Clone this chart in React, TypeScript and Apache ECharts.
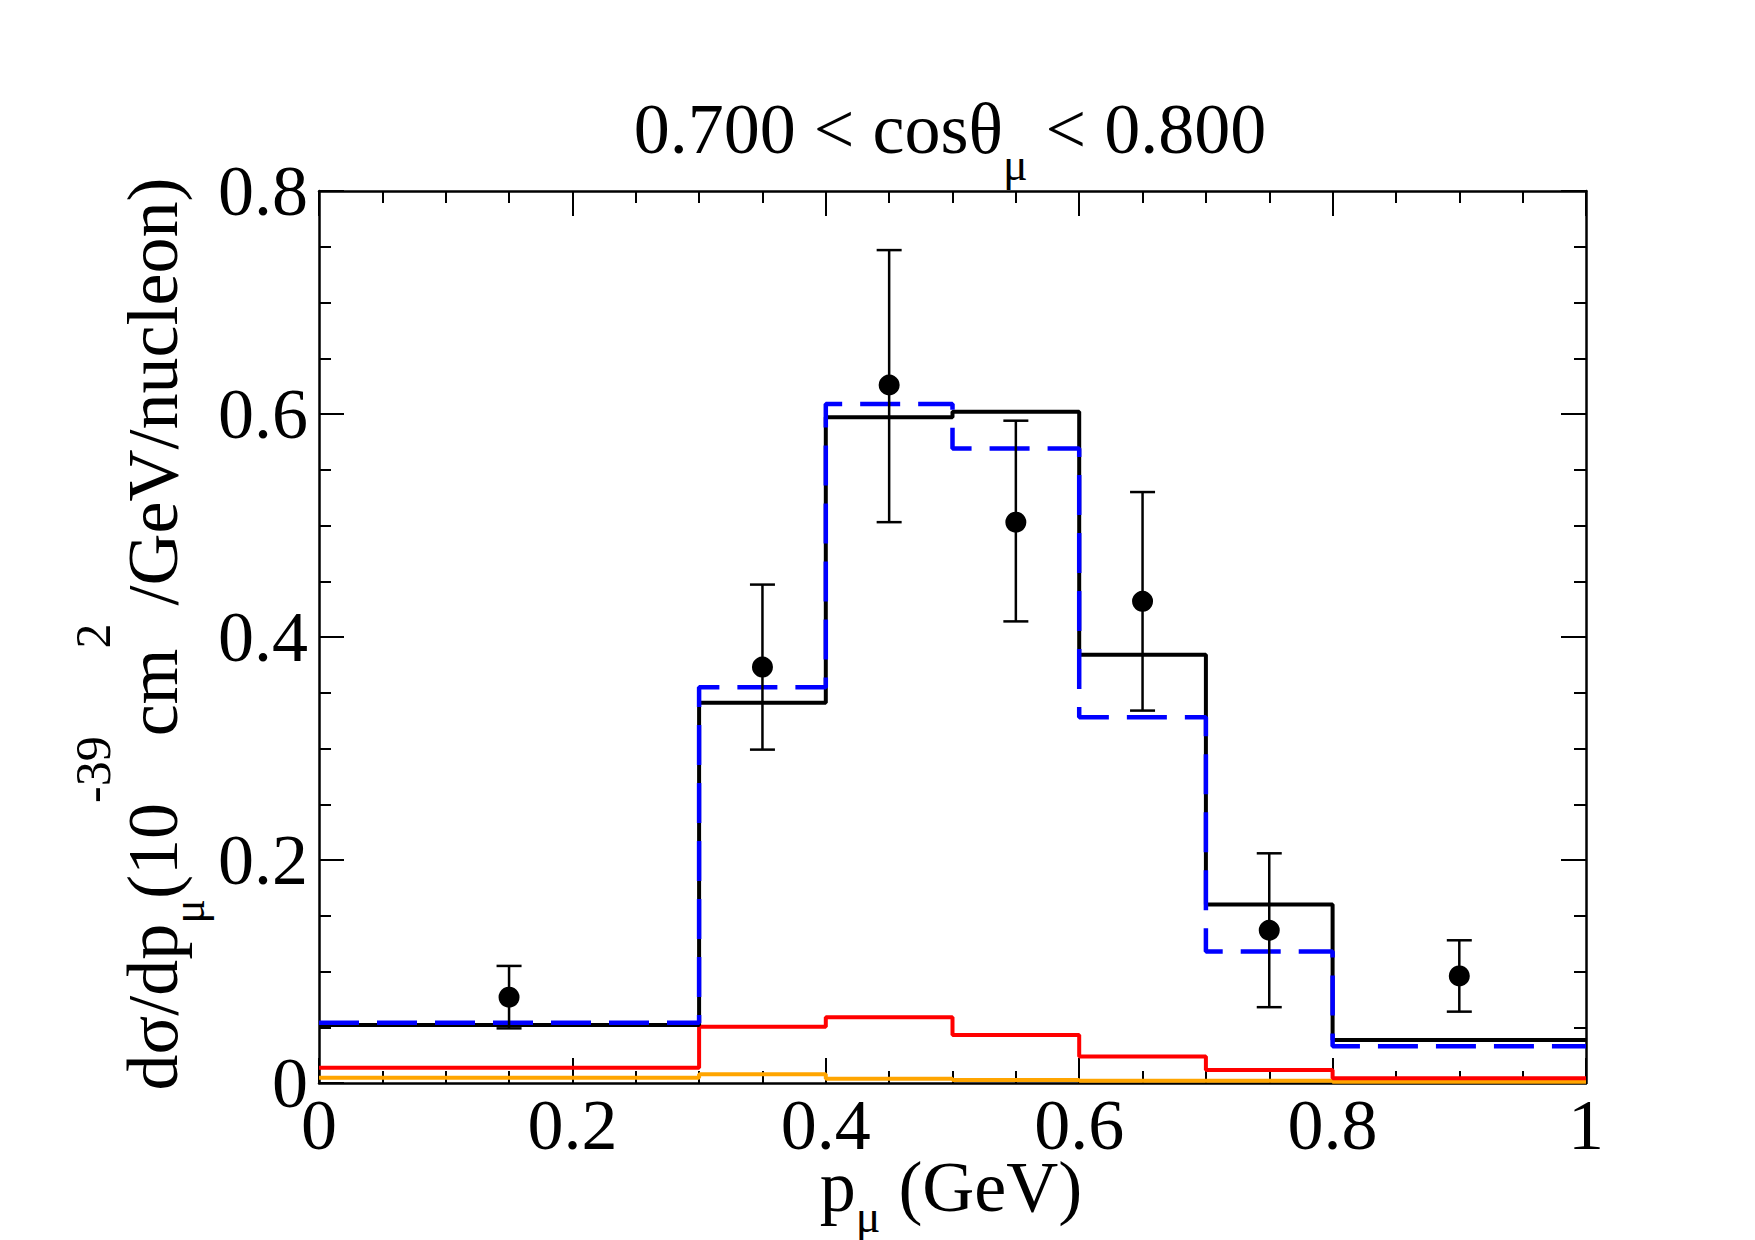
import React, { useEffect, useRef } from "react";
import * as echarts from "echarts";

// Bin edges (GeV) and histogram values per bin
const binEdges = [0, 0.3, 0.4, 0.5, 0.6, 0.7, 0.8, 1.0];
const totalModel = [0.052, 0.341, 0.597, 0.602, 0.384, 0.16, 0.0386];
const altModel = [0.054, 0.355, 0.609, 0.569, 0.328, 0.118, 0.033];
const redComponent = [0.0137, 0.0505, 0.059, 0.043, 0.0237, 0.0117, 0.0042];
const orangeComponent = [0.0048, 0.0078, 0.0039, 0.0027, 0.002, 0.002, 0.0012];

// Data points with error bars
const dataX = [0.15, 0.35, 0.45, 0.55, 0.65, 0.75, 0.9];
const dataY = [0.077, 0.373, 0.626, 0.503, 0.432, 0.137, 0.096];
const errLow = [0.049, 0.299, 0.503, 0.414, 0.334, 0.068, 0.064];
const errHigh = [0.105, 0.447, 0.747, 0.594, 0.53, 0.206, 0.128];

const xTickLabels = ["0", "0.2", "0.4", "0.6", "0.8", "1"];
const yTickLabels = ["0", "0.2", "0.4", "0.6", "0.8"];

const FONT = "Liberation Serif";
const MAIN = 72;
const SMALL = 46;

const stepData = (vals: number[]) =>
  binEdges.map((x, i) => [x, vals[Math.min(i, vals.length - 1)]]);

// compact rich styles (subscript only)
const richTitle = {
  m: { fontFamily: FONT, fontSize: MAIN, lineHeight: 80, color: "#000" },
  s: { fontFamily: FONT, fontSize: SMALL, lineHeight: 10, verticalAlign: "top", padding: [52, 0, 0, 0], color: "#000" },
};
const richXName = {
  m: { fontFamily: FONT, fontSize: MAIN, lineHeight: 40, color: "#000" },
  s: { fontFamily: FONT, fontSize: SMALL, lineHeight: 10, verticalAlign: "top", padding: [26, 0, 0, 0], color: "#000" },
};

// tall rich styles (subscript + superscript)
const richBoth = {
  m: { fontFamily: FONT, fontSize: MAIN, lineHeight: 170, color: "#000" },
  s: { fontFamily: FONT, fontSize: SMALL, lineHeight: 10, verticalAlign: "top", padding: [97, 0, 0, 0], color: "#000" },
  u: { fontFamily: FONT, fontSize: 50, lineHeight: 10, verticalAlign: "top", padding: [0, 0, 0, 0], color: "#000" },
};

const GRID = { left: 319, top: 191, width: 1267, height: 892 };

function makeAxisCommon(showLabels: boolean, labels: string[], interval: number, max: number, margin = 8) {
  return {
    type: "value" as const,
    min: 0,
    max,
    interval,
    axisLine: { show: true, onZero: false, lineStyle: { color: "#000", width: 2.5 } },
    axisTick: { show: true, inside: true, length: 25, lineStyle: { color: "#000", width: 2 } },
    minorTick: { show: true, splitNumber: 4, length: 12, lineStyle: { color: "#000", width: 2 } },
    splitLine: { show: false },
    minorSplitLine: { show: false },
    axisLabel: {
      show: showLabels,
      margin,
      fontFamily: FONT,
      fontSize: MAIN,
      color: "#000",
      formatter: (v: number) => {
        const idx = Math.round(v / interval);
        return labels[idx] ?? "";
      },
    },
  };
}

export default function App() {
  const ref = useRef<HTMLDivElement>(null);

  useEffect(() => {
    if (!ref.current) return;
    const chart = echarts.init(ref.current, undefined, { renderer: "svg" });

    const lineSeries = (name: string, vals: number[], color: string, width: number, z: number, dashed = false) => ({
      name,
      type: "line" as const,
      step: "end" as const,
      data: stepData(vals),
      showSymbol: false,
      symbol: "none",
      z,
      lineStyle: { color, width, type: dashed ? [40, 18] : "solid", cap: "butt" },
      xAxisIndex: 0,
      yAxisIndex: 0,
    });

    const option: any = {
      animation: false,
      backgroundColor: "#fff",
      grid: { ...GRID, containLabel: false },
      xAxis: [
        { ...makeAxisCommon(true, xTickLabels, 0.2, 1, 6), position: "bottom" },
        { ...makeAxisCommon(false, xTickLabels, 0.2, 1), position: "top" },
      ],
      yAxis: [
        { ...makeAxisCommon(true, yTickLabels, 0.2, 0.8, 11), position: "left" },
        { ...makeAxisCommon(false, yTickLabels, 0.2, 0.8), position: "right" },
      ],
      series: [
        lineSeries("orange", orangeComponent, "#ffa500", 4, 2),
        lineSeries("red", redComponent, "#ff0000", 4, 2),
        lineSeries("total", totalModel, "#000000", 4, 3),
        lineSeries("alt", altModel, "#0000ff", 4.5, 4, true),
        {
          name: "errors",
          type: "custom",
          xAxisIndex: 0,
          yAxisIndex: 0,
          z: 5,
          data: dataX.map((x, i) => [x, errLow[i], errHigh[i]]),
          encode: { x: 0, y: [1, 2] },
          renderItem: (params: any, api: any) => {
            const x = api.value(0);
            const lo = api.coord([x, api.value(1)]);
            const hi = api.coord([x, api.value(2)]);
            const w = 12.5;
            const st = { stroke: "#000", lineWidth: 2.5 };
            return {
              type: "group",
              children: [
                { type: "line", shape: { x1: lo[0], y1: lo[1], x2: hi[0], y2: hi[1] }, style: st },
                { type: "line", shape: { x1: lo[0] - w, y1: lo[1], x2: lo[0] + w, y2: lo[1] }, style: st },
                { type: "line", shape: { x1: hi[0] - w, y1: hi[1], x2: hi[0] + w, y2: hi[1] }, style: st },
              ],
            };
          },
        },
        {
          name: "data",
          type: "scatter",
          xAxisIndex: 0,
          yAxisIndex: 0,
          z: 6,
          symbol: "circle",
          symbolSize: 21,
          itemStyle: { color: "#000", opacity: 1 },
          data: dataX.map((x, i) => [x, dataY[i]]),
        },
      ],
      graphic: [
        {
          type: "text",
          x: 950,
          y: 129,
          style: {
            text: "{m|0.700 < cosθ}{s|μ}{m| < 0.800}",
            rich: richTitle,
            align: "center",
            verticalAlign: "middle",
          },
        },
        {
          type: "text",
          x: 951,
          y: 1187,
          style: {
            text: "{m|p}{s|μ}{m| (GeV)}",
            rich: richXName,
            align: "center",
            verticalAlign: "middle",
          },
        },
        {
          type: "text",
          x: 153,
          y: 634,
          rotation: Math.PI / 2,
          style: {
            text: "{m|dσ/dp}{s|μ}{m|(10}{u|-39}{m|cm}{u|2}{m| /GeV/nucleon)}",
            rich: richBoth,
            align: "center",
            verticalAlign: "middle",
          },
        },
      ],
    };

    chart.setOption(option);
    return () => chart.dispose();
  }, []);

  return (
    <div
      ref={ref}
      style={{ position: "absolute", left: 0, top: 0, width: 1755, height: 1240, background: "#fff" }}
    />
  );
}
